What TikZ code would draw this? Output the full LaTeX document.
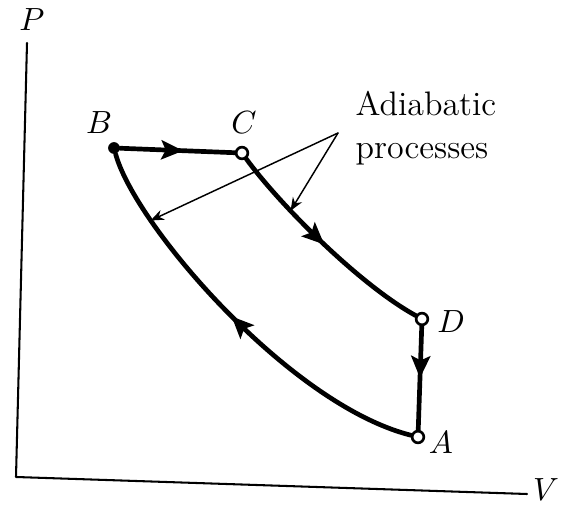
\documentclass[tikz,border=0pt]{standalone}
\usetikzlibrary{arrows.meta,decorations.markings}
\tikzset{
	axis/.style={line width=0.7pt},
	proc/.style={line width=1.6pt},
	dot/.style={circle, fill=black, inner sep=0pt, minimum size=4pt},
	ringdot/.style={circle, draw, line width=0.9pt, fill=white, inner sep=0pt, minimum size=4pt},
	lbl/.style={inner sep=0pt, font=\fontsize{11}{13}\selectfont},
	midarrow/.style={postaction={decorate}, decoration={markings,
		mark=at position #1 with {\arrow{Stealth[length=7.5pt,width=6.5pt,inset=1.5pt]}}}},
	pointer/.style={line width=0.5pt, -{Stealth[length=4.5pt,width=3.6pt]}}
}
\begin{document}
\begin{tikzpicture}[x=0.012cm, y=-0.012cm, line join=round, line cap=round]
	\useasboundingbox (0,0) rectangle (569,505);
	% axes
	\draw[axis] (27,43) -- (16,477) -- (527,494);
	\node[lbl] (P) at (32,20) {$P$};
	\node[lbl] (V) at (546,490) {$V$};
	% state points
	\node[dot] (B) at (114,148) {};
	\node[ringdot] (C) at (242,153) {};
	\node[ringdot] (D) at (422,319) {};
	\node[ringdot] (A) at (418,437) {};
	\node[lbl] (Blbl) at (99,123) {$B$};
	\node[lbl] (Clbl) at (244,123) {$C$};
	\node[lbl] (Dlbl) at (451,322) {$D$};
	\node[lbl] (Albl) at (441,443) {$A$};
	% cycle
	\draw[proc, midarrow=0.55] (B) -- (C);
	\draw[proc, midarrow=0.5] (C) .. controls (280,205) and (360,285) .. (D) coordinate[pos=0.32] (cdtip);
	\draw[proc, midarrow=0.5] (D) -- (A);
	\draw[proc, midarrow=0.52] (A) .. controls (290,405) and (135,225) .. (B) coordinate[pos=0.76] (abtip);
	% note
	\node[lbl, anchor=west, align=left, font=\fontsize{11.6}{14.5}\selectfont] (note) at (355,128) {Adiabatic\\processes};
	\coordinate (apex) at (338,133);
	\draw[pointer] (apex) -- (abtip);
	\draw[pointer] (apex) -- (cdtip);
\end{tikzpicture}
\end{document}
